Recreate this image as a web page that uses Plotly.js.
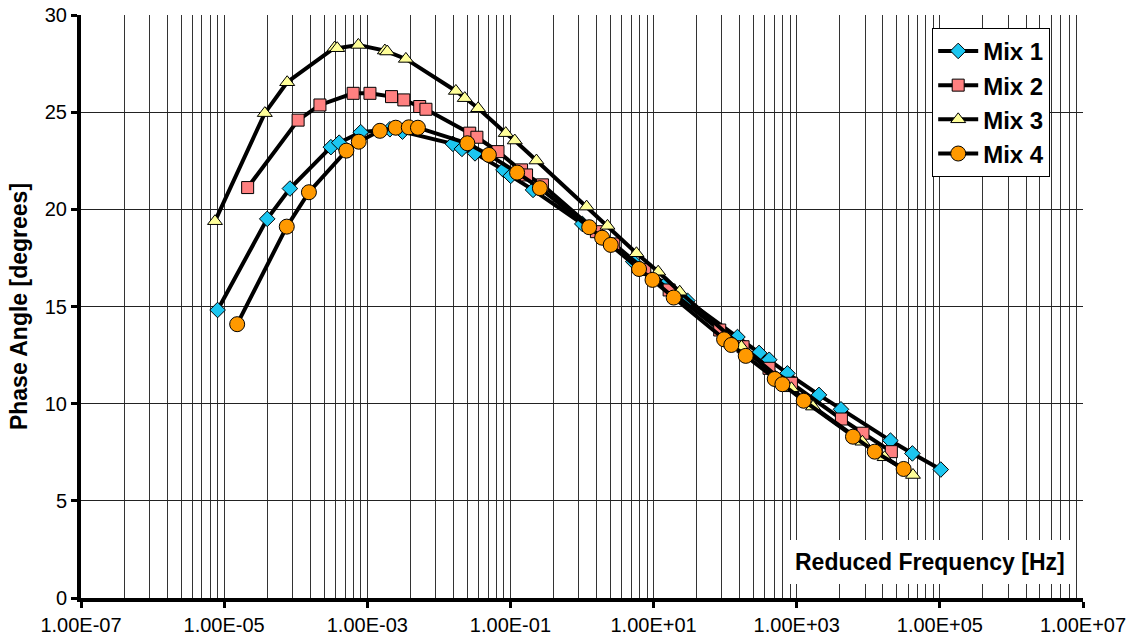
<!DOCTYPE html>
<html>
<head>
<meta charset="utf-8">
<script src="https://cdn.plot.ly/plotly-3.0.1.min.js"></script>
<style>html,body{margin:0;padding:0;background:#fff;}#chart{width:1140px;height:640px;}</style>
</head>
<body>
<div id="chart"></div>
<script>
// ---- Data ----
const mix1Freq = [8.1e-6, 4.0e-5, 8.3e-5, 3.1e-4, 4.05e-4, 8.1e-4, 2.07e-3, 3.1e-3, 1.57e-2, 2.1e-2, 3.2e-2, 8.0e-2, 0.101, 0.207, 1.01, 5.2, 14.8, 29.7, 148.6, 298, 413, 741, 2047, 4156, 20400, 41300, 1.03e5];
const mix1Phase = [14.82, 19.51, 21.07, 23.20, 23.43, 23.97, 24.12, 24.0, 23.37, 23.11, 22.88, 22.03, 21.72, 21.0, 19.25, 17.31, 16.15, 15.30, 13.43, 12.61, 12.26, 11.56, 10.45, 9.71, 8.10, 7.44, 6.61];

const mix2Freq = [2.13e-5, 1.08e-4, 2.18e-4, 6.35e-4, 1.09e-3, 2.18e-3, 3.24e-3, 5.4e-3, 6.6e-3, 2.7e-2, 3.4e-2, 6.7e-2, 0.143, 0.168, 0.28, 1.59, 2.78, 7.54, 16.5, 84, 178, 410, 843, 4210, 8430, 21000];
const mix2Phase = [21.12, 24.59, 25.37, 25.97, 25.97, 25.80, 25.63, 25.29, 25.15, 23.92, 23.71, 22.97, 22.03, 21.77, 21.26, 18.85, 18.22, 16.91, 15.85, 13.79, 12.93, 11.82, 11.05, 9.21, 8.48, 7.53];

const mix3Freq = [7.45e-6, 3.7e-5, 7.6e-5, 3.5e-4, 3.8e-4, 7.5e-4, 1.76e-3, 1.9e-3, 3.46e-3, 1.73e-2, 2.3e-2, 3.54e-2, 8.6e-2, 0.115, 0.231, 1.16, 2.27, 5.77, 11.6, 23.2, 169, 843, 1690, 8270, 16900, 42100];
const mix3Phase = [19.39, 24.95, 26.54, 28.32, 28.29, 28.46, 28.17, 28.12, 27.74, 26.09, 25.72, 25.20, 23.92, 23.54, 22.51, 20.14, 19.15, 17.74, 16.79, 15.76, 12.93, 10.79, 9.85, 8.04, 7.24, 6.33];

const mix4Freq = [1.52e-5, 7.5e-5, 1.53e-4, 5.1e-4, 7.6e-4, 1.5e-3, 2.5e-3, 3.8e-3, 5.1e-3, 2.5e-2, 5.0e-2, 0.124, 0.258, 1.26, 1.91, 2.52, 6.27, 9.66, 19.1, 96.6, 122, 194, 493, 631, 1253, 6110, 12300, 31200];
const mix4Phase = [14.09, 19.11, 20.88, 23.02, 23.48, 24.04, 24.20, 24.22, 24.20, 23.40, 22.80, 21.89, 21.09, 19.08, 18.54, 18.17, 16.93, 16.37, 15.46, 13.31, 13.02, 12.46, 11.27, 11.0, 10.15, 8.30, 7.53, 6.64];

const xTickVals = [1e-7, 1e-5, 1e-3, 1e-1, 1e1, 1e3, 1e5, 1e7];
const xTickText = ["1.00E-07", "1.00E-05", "1.00E-03", "1.00E-01", "1.00E+01", "1.00E+03", "1.00E+05", "1.00E+07"];
const seriesNames = ["Mix 1", "Mix 2", "Mix 3", "Mix 4"];

// ---- Grid positions: base-100 log axis, minor lines at start*k^2 (k=2..9) in each cycle ----
const gridVals = [];
for (let e = -7; e < 7; e += 2) {
  for (let k = 2; k <= 9; k++) gridVals.push(k * k * Math.pow(10, e));
}

const FONT = "Arial, 'Liberation Sans', Helvetica, sans-serif";

function mk(name, x, y, symbol, color, size) {
  return {
    type: 'scatter', mode: 'lines+markers', name: name, x: x, y: y,
    line: {color: '#000', width: 4},
    marker: {symbol: symbol, color: color, size: size, line: {color: '#000', width: 1}}
  };
}

const data = [
  mk(seriesNames[0], mix1Freq, mix1Phase, 'diamond', '#1CC6F0', 12),
  mk(seriesNames[1], mix2Freq, mix2Phase, 'square', '#FF8080', 12),
  mk(seriesNames[2], mix3Freq, mix3Phase, 'triangle-up', '#FFFF99', 13),
  mk(seriesNames[3], mix4Freq, mix4Phase, 'circle', '#FF9900', 15)
];

const layout = {
  width: 1140, height: 640,
  margin: {l: 81, r: 57, t: 15, b: 42},
  paper_bgcolor: '#fff', plot_bgcolor: '#fff',
  font: {family: FONT, color: '#000'},
  showlegend: true,
  legend: {
    x: 0.8495, y: 0.978, xanchor: 'left', yanchor: 'top',
    bgcolor: '#fff', bordercolor: '#000', borderwidth: 1,
    font: {family: FONT, size: 24, color: '#000', weight: 'bold'},
    itemwidth: 40, tracegroupgap: 0
  },
  xaxis: {
    type: 'log', range: [-7, 7],
    tickvals: xTickVals, ticktext: xTickText,
    tickfont: {family: FONT, size: 20, color: '#000'},
    ticks: 'outside', ticklen: 6, tickwidth: 3, tickcolor: '#000',
    showline: true, linecolor: '#000', linewidth: 4,
    showgrid: true, gridcolor: '#333', gridwidth: 1,
    minor: {tickvals: gridVals, showgrid: true, gridcolor: '#333', gridwidth: 1, ticks: ''},
    zeroline: false, fixedrange: true
  },
  yaxis: {
    range: [0, 30], dtick: 5, tick0: 0,
    tickfont: {family: FONT, size: 20, color: '#000'},
    ticks: 'outside', ticklen: 6, tickwidth: 3, tickcolor: '#000',
    showline: true, linecolor: '#000', linewidth: 4,
    showgrid: true, gridcolor: '#222', gridwidth: 1,
    zeroline: false,
    title: {text: '<b>Phase Angle [degrees]</b>', font: {family: FONT, size: 23, color: '#000'}, standoff: 12},
    fixedrange: true
  },
  annotations: [{
    xref: 'paper', yref: 'paper', x: 0.847, y: 0.0617,
    xanchor: 'center', yanchor: 'middle', showarrow: false,
    text: '<b>Reduced Frequency [Hz]</b>',
    font: {family: FONT, size: 23, color: '#000'},
    bgcolor: '#fff', borderwidth: 0, borderpad: 9
  }]
};

Plotly.newPlot('chart', data, layout, {displayModeBar: false, staticPlot: true});
</script>
</body>
</html>
